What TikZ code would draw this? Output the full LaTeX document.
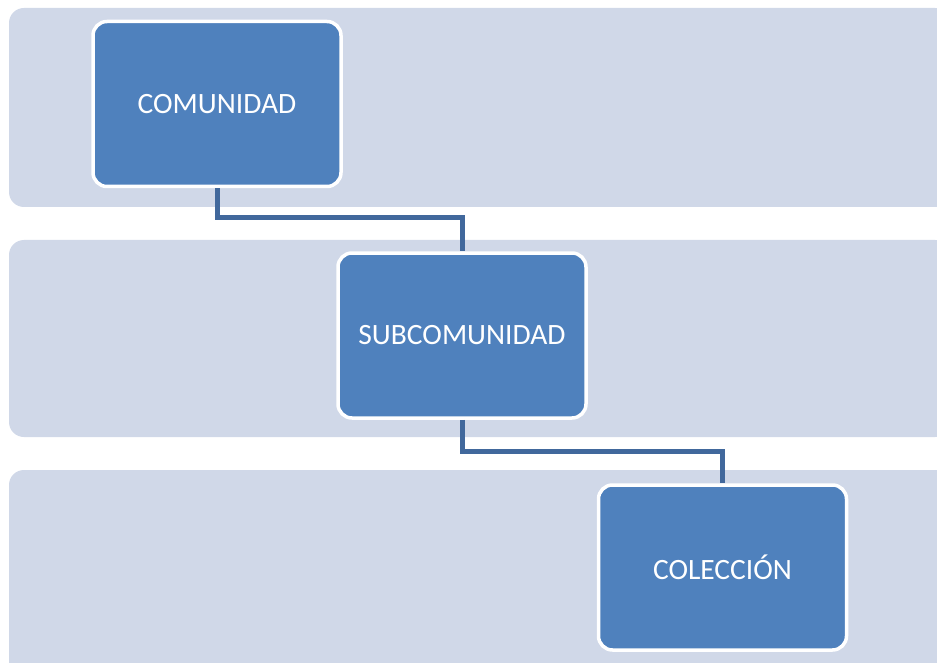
\documentclass[tikz,border=0pt]{standalone}
\usepackage{fontspec}
\setmainfont{Carlito}
\definecolor{bandc}{HTML}{D0D8E8}
\definecolor{boxc}{HTML}{4F81BD}
\definecolor{linec}{HTML}{41689C}
\tikzset{
  band/.style={fill=bandc, draw=none, rounded corners=15pt},
  levelbox/.style={draw=white, line width=3.5pt, fill=boxc, rounded corners=14pt,
    minimum width=248pt, minimum height=165pt, inner sep=0pt,
    text=white, font=\fontsize{29.5}{32}\selectfont},
  conn/.style={draw=linec, line width=5pt}
}
\begin{document}
\begin{tikzpicture}[x=1pt,y=-1pt]
\clip (0,0) rectangle (937,663);
\fill[white] (0,0) rectangle (937,663);
\path[band] (9,8) rectangle (950,207);
\path[band] (9,240) rectangle (950,437);
\path[band] (9,470) rectangle (950,690);
\node[levelbox] (com) at (217,104) {COMUNIDAD};
\node[levelbox] (sub) at (462,335.5) {SUBCOMUNIDAD};
\node[levelbox] (col) at (722.5,567.5) {COLECCIÓN};
\draw[conn] (com.south) -- ++(0,29) -| (sub.north);
\draw[conn] (sub.south) -- ++(0,32) -| (col.north);
\end{tikzpicture}
\end{document}
